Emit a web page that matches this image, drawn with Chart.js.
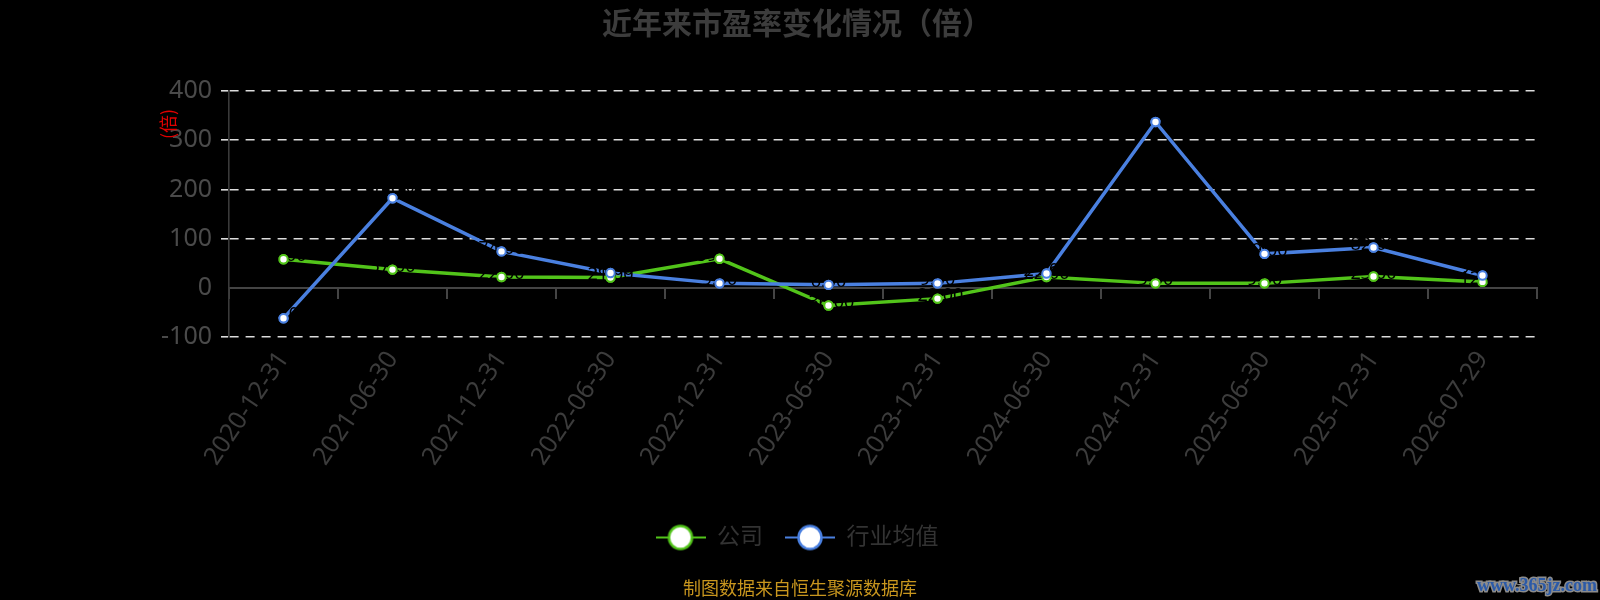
<!DOCTYPE html>
<html>
<head>
<meta charset="utf-8">
<script src="https://cdn.jsdelivr.net/npm/chart.js@4/dist/chart.umd.min.js"></script>
<style>
  html, body { margin: 0; padding: 0; background: #000; }
  #wrap { position: relative; width: 1600px; height: 600px; }
</style>
</head>
<body>
<div id="wrap"><canvas id="peChart"></canvas></div>
<script>
// 数据
const dates = ['2020-12-31', '2021-06-30', '2021-12-31', '2022-06-30', '2022-12-31', '2023-06-30',
               '2023-12-31', '2024-06-30', '2024-12-31', '2025-06-30', '2025-12-31', '2026-07-29'];
const companyPE = [58, 37, 22, 21, 59, -36, -22, 22, 9, 9, 23, 12];
const industryPE = [-62, 182, 74, 30, 9, 6, 9, 29, 337, 69, 82, 25];
const yTicks = [-100, 0, 100, 200, 300, 400];

const GREEN = '#52c41a';
const BLUE = '#4a80e0';
Chart.defaults.font.family = '"Noto Sans", "Noto Sans CJK SC", sans-serif';

// legend marker: line with a hollow circle
function legendMarker(color) {
  const c = document.createElement('canvas');
  c.width = 50; c.height = 28;
  const g = c.getContext('2d');
  g.strokeStyle = color;
  g.lineWidth = 2;
  g.beginPath(); g.moveTo(0, 14); g.lineTo(50, 14); g.stroke();
  g.beginPath(); g.arc(25, 14, 11.5, 0, Math.PI * 2);
  g.fillStyle = '#fff'; g.fill();
  g.lineWidth = 2.5; g.stroke();
  return c;
}
const markers = [legendMarker(GREEN), legendMarker(BLUE)];

// black value labels (almost invisible on black), then points again on top
const valueLabels = {
  id: 'valueLabels',
  afterDatasetsDraw(chart) {
    const ctx = chart.ctx;
    ctx.save();
    ctx.font = '18px "Noto Sans"';
    ctx.fillStyle = '#000';
    ctx.textAlign = 'center';
    ctx.textBaseline = 'middle';
    chart.data.datasets.forEach((ds, i) => {
      chart.getDatasetMeta(i).data.forEach((pt, j) => {
        ctx.fillText(ds.data[j].toFixed(2), pt.x, pt.y - 3);
      });
    });
    chart.data.datasets.forEach((ds, i) => {
      chart.getDatasetMeta(i).data.forEach(pt => pt.draw(ctx, chart.chartArea));
    });
    ctx.restore();
  }
};

// unit, footer, watermark
const extraText = {
  id: 'extraText',
  afterDraw(chart) {
    const ctx = chart.ctx;
    ctx.save();
    ctx.translate(168, 124);
    ctx.rotate(-Math.PI / 2);
    ctx.font = '18px "Noto Sans CJK SC"';
    ctx.fillStyle = '#e00000';
    ctx.textAlign = 'center';
    ctx.textBaseline = 'middle';
    ctx.fillText('(倍)', 0, 0);
    ctx.restore();

    ctx.save();
    ctx.font = '18px "Noto Sans CJK SC"';
    ctx.fillStyle = '#c8961e';
    ctx.textAlign = 'center';
    ctx.textBaseline = 'top';
    ctx.fillText('制图数据来自恒生聚源数据库', 800, 579);

    ctx.font = 'bold 18px "Liberation Serif"';
    ctx.textAlign = 'left';
    ctx.textBaseline = 'middle';
    ctx.lineWidth = 3;
    ctx.strokeStyle = '#8c8c8c';
    ctx.strokeText('www.365jz.com', 1477, 586);
    ctx.fillStyle = '#2b5aa8';
    ctx.fillText('www.365jz.com', 1477, 586);
    ctx.restore();
  }
};

new Chart(document.getElementById('peChart'), {
  type: 'line',
  data: {
    labels: dates,
    datasets: [
      {
        label: '公司',
        data: companyPE,
        borderColor: GREEN,
        backgroundColor: GREEN,
        borderWidth: 3.5,
        tension: 0,
        pointRadius: 4.2,
        pointBorderWidth: 2,
        pointBackgroundColor: '#fff',
        pointBorderColor: GREEN,
        order: 2
      },
      {
        label: '行业均值',
        data: industryPE,
        borderColor: BLUE,
        backgroundColor: BLUE,
        borderWidth: 3.5,
        tension: 0,
        pointRadius: 4.2,
        pointBorderWidth: 2,
        pointBackgroundColor: '#fff',
        pointBorderColor: BLUE,
        order: 1
      }
    ]
  },
  options: {
    responsive: true,
    maintainAspectRatio: false,
    animation: false,
    layout: { padding: { left: 57, right: 63, top: 0, bottom: 41 } },
    plugins: {
      title: {
        display: true,
        text: '近年来市盈率变化情况（倍）',
        color: '#3c3c3c',
        font: { size: 30, weight: 'bold' },
        padding: { top: 7, bottom: 48 }
      },
      legend: {
        position: 'bottom',
        labels: {
          usePointStyle: true,
          pointStyleWidth: 50,
          color: '#333',
          font: { size: 23 },
          padding: 22,
          sort: (a, b) => a.datasetIndex - b.datasetIndex,
          generateLabels(chart) {
            const items = Chart.defaults.plugins.legend.labels.generateLabels(chart);
            items.forEach(it => { it.pointStyle = markers[it.datasetIndex]; });
            return items;
          }
        }
      },
      tooltip: { enabled: false }
    },
    scales: {
      x: {
        offset: true,
        grid: { display: false, drawTicks: false },
        border: { display: false },
        ticks: {
          color: '#3c3c3c',
          font: { size: 25 },
          autoSkip: false,
          minRotation: 56,
          maxRotation: 56,
          padding: 9
        },
        afterFit(scale) { scale.height = 167; }
      },
      xZero: {
        type: 'category',
        position: { y: 0 },
        offset: true,
        ticks: { display: false },
        grid: { drawOnChartArea: false, offset: true, tickLength: 10, color: '#444', lineWidth: 2 },
        border: { color: '#444', width: 2 }
      },
      y: {
        min: -100,
        max: 400,
        afterBuildTicks(scale) { scale.ticks = yTicks.map(v => ({ value: v })); },
        afterFit(scale) { scale.width = 172; },
        ticks: { color: '#4a4a4a', font: { size: 25 }, padding: 9 },
        grid: {
          color: ctx => (ctx.tick && ctx.tick.value === 0 ? 'rgba(0,0,0,0)' : '#dcdcdc'),
          lineWidth: 1.6,
          tickLength: 8
        },
        border: { color: '#3a3a3a', width: 1.6, dash: [9, 7] }
      }
    }
  },
  plugins: [valueLabels, extraText]
});
</script>
</body>
</html>
